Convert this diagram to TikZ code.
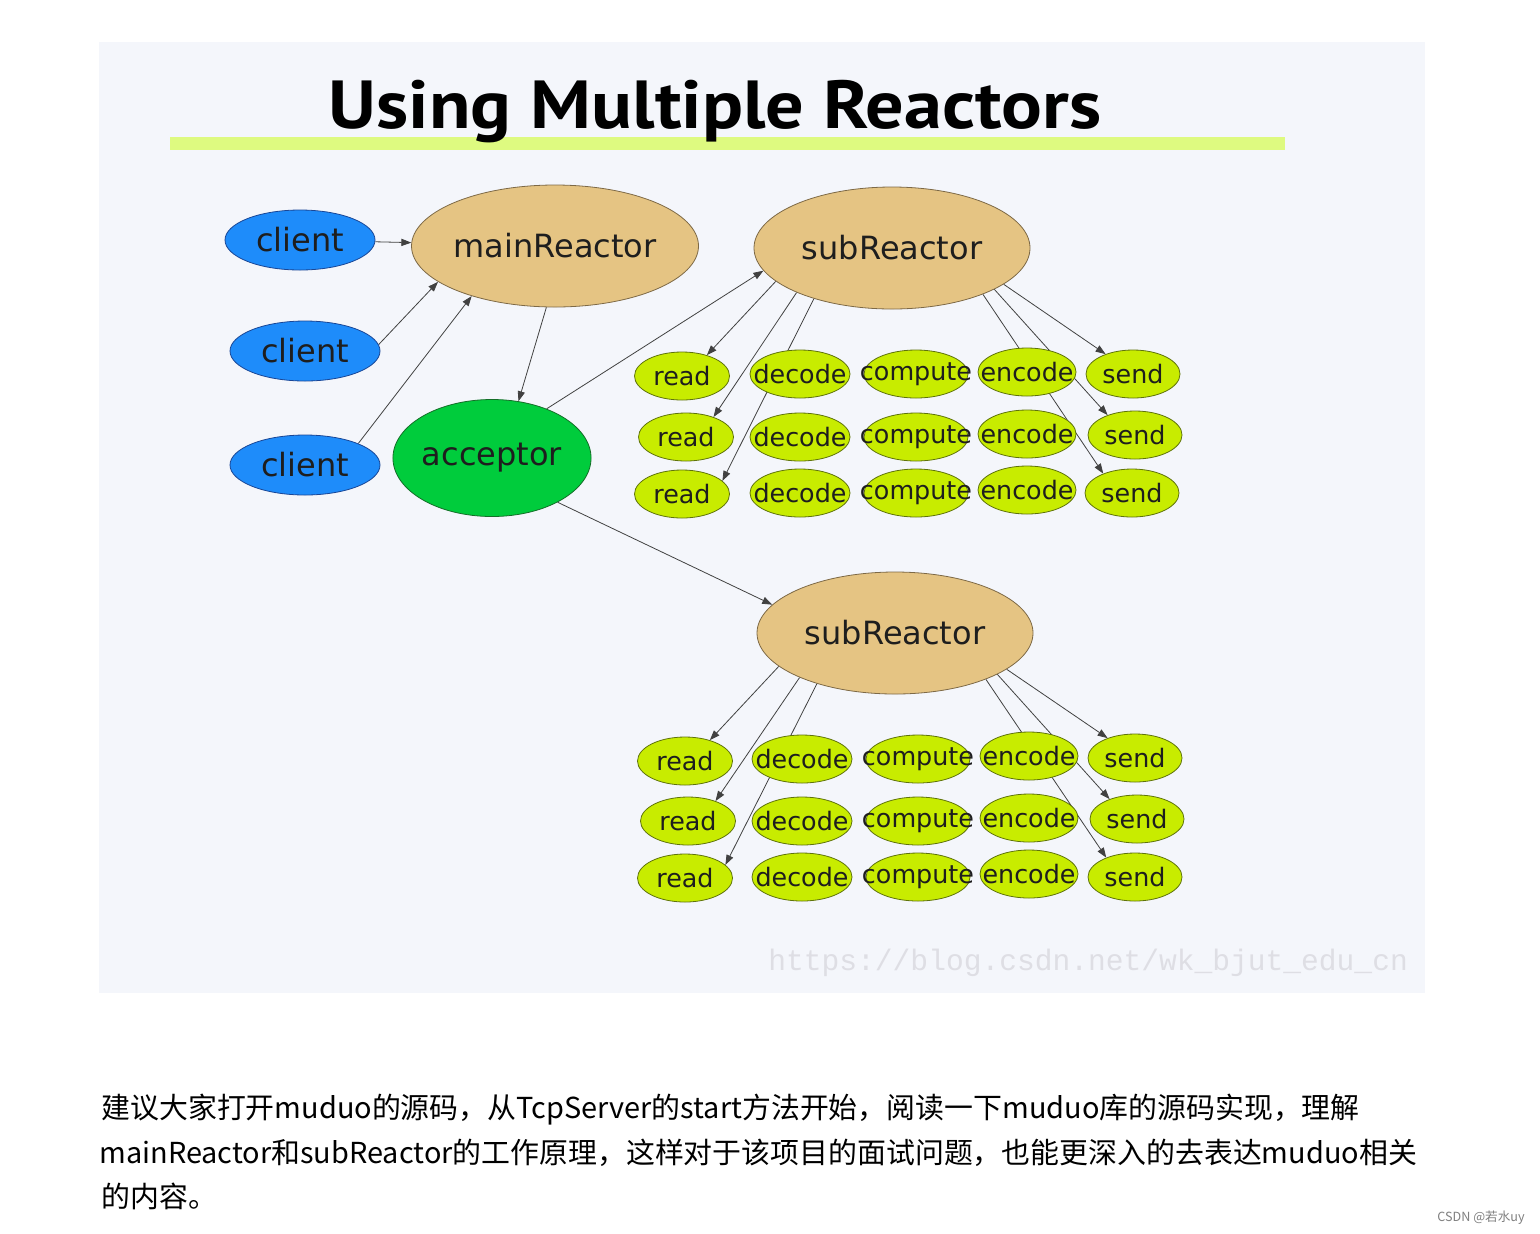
\documentclass[tikz,border=0pt]{standalone}
\usepackage{fontspec}
\setmainfont{DejaVu Sans}
\newfontfamily\titlefont{PT Sans}[FakeStretch=1.12]
\newfontfamily\cjkfont{Noto Sans CJK SC}
\newfontfamily\urlfont{Liberation Mono}
\usetikzlibrary{arrows.meta,shapes.geometric}

\definecolor{panelbg}{RGB}{244,246,251}
\definecolor{titlebar}{RGB}{222,250,128}
\definecolor{clientfill}{RGB}{30,140,250}
\definecolor{clientline}{RGB}{25,70,150}
\definecolor{reactorfill}{RGB}{229,196,131}
\definecolor{reactorline}{RGB}{125,105,70}
\definecolor{acceptorfill}{RGB}{0,204,60}
\definecolor{acceptorline}{RGB}{20,110,40}
\definecolor{taskfill}{RGB}{200,236,0}
\definecolor{taskline}{RGB}{95,115,10}
\definecolor{edgegray}{RGB}{65,65,65}
\definecolor{nodetext}{RGB}{30,30,30}
\definecolor{urlgray}{RGB}{222,222,228}

\pgfdeclarelayer{panel}
\pgfdeclarelayer{edges}
\pgfsetlayers{panel,edges,main}

% labels of the small ellipses may run over their border
\newcommand{\tasklabel}[1]{\makebox[0pt]{#1}}

\begin{document}
\begin{tikzpicture}[->,>={Triangle[length=5pt,width=3.6pt]},x=0.5pt,y=-0.5pt,
    line width=0.7pt,
    client node/.style={ellipse,draw=clientline,fill=clientfill,text=nodetext,
      minimum width=75pt,minimum height=30pt,inner sep=0pt,
      font=\fontsize{16}{18}\selectfont},
    reactor node/.style={ellipse,draw=reactorline,fill=reactorfill,text=nodetext,
      minimum width=138pt,minimum height=61pt,inner sep=0pt,
      font=\fontsize{16}{18}\selectfont},
    acceptor node/.style={ellipse,draw=acceptorline,fill=acceptorfill,text=nodetext,
      minimum width=96.5pt,minimum height=58.5pt,inner sep=0pt,
      font=\fontsize{16}{18}\selectfont},
    task node/.style={ellipse,draw=taskline,fill=taskfill,text=nodetext,
      minimum width=#1,minimum height=24pt,inner sep=0pt,
      font=\fontsize{12.7}{14}\selectfont},
    task node/.default=48pt]

    \useasboundingbox (0,0) rectangle (1540,1233);
    \begin{pgfonlayer}{panel}
    \fill[white] (0,0) rectangle (1540,1233);
    \fill[panelbg] (99,42) rectangle (1425,993);
    \fill[titlebar] (170,137) rectangle (1285,150);
    \end{pgfonlayer}

    \node[anchor=base,inner sep=0pt,font=\titlefont\bfseries\fontsize{34}{36}\selectfont]
      (title) at (715,128) {Using Multiple Reactors};

    \node[client node] (client1) at (300,240) {client};
    \node[client node] (client2) at (305,351) {client};
    \node[client node] (client3) at (305,465) {client};
    \node[reactor node] (mainR) at (555,246) {mainReactor};
    \node[acceptor node] (acc) at (492,458) {acceptor};
    \node[reactor node] (sub1) at (892,248) {subReactor};
    \node[reactor node] (sub2) at (895,633) {subReactor};

    % first subReactor
    \node[task node=47.5pt] (read11) at (682,376) {\tasklabel{read}};
    \node[task node=50pt] (decode11) at (800,374) {\tasklabel{decode}};
    \node[task node=52pt] (compute11) at (916,374) {\tasklabel{compute}};
    \node[task node=49pt] (encode11) at (1027,372) {\tasklabel{encode}};
    \node[task node=47pt] (send11) at (1133,374) {\tasklabel{send}};
    \node[task node=47.5pt] (read12) at (686,437) {\tasklabel{read}};
    \node[task node=50pt] (decode12) at (800,437) {\tasklabel{decode}};
    \node[task node=52pt] (compute12) at (916,437) {\tasklabel{compute}};
    \node[task node=49pt] (encode12) at (1027,434) {\tasklabel{encode}};
    \node[task node=47pt] (send12) at (1135,435) {\tasklabel{send}};
    \node[task node=47.5pt] (read13) at (682,494) {\tasklabel{read}};
    \node[task node=50pt] (decode13) at (800,493) {\tasklabel{decode}};
    \node[task node=52pt] (compute13) at (916,493) {\tasklabel{compute}};
    \node[task node=49pt] (encode13) at (1027,490) {\tasklabel{encode}};
    \node[task node=47pt] (send13) at (1132,493) {\tasklabel{send}};

    % second subReactor
    \node[task node=47.5pt] (read21) at (685,761) {\tasklabel{read}};
    \node[task node=50pt] (decode21) at (802,759) {\tasklabel{decode}};
    \node[task node=52pt] (compute21) at (918,759) {\tasklabel{compute}};
    \node[task node=49pt] (encode21) at (1029,756) {\tasklabel{encode}};
    \node[task node=47pt] (send21) at (1135,758) {\tasklabel{send}};
    \node[task node=47.5pt] (read22) at (688,821) {\tasklabel{read}};
    \node[task node=50pt] (decode22) at (802,821) {\tasklabel{decode}};
    \node[task node=52pt] (compute22) at (918,821) {\tasklabel{compute}};
    \node[task node=49pt] (encode22) at (1029,818) {\tasklabel{encode}};
    \node[task node=47pt] (send22) at (1137,819) {\tasklabel{send}};
    \node[task node=47.5pt] (read23) at (685,878) {\tasklabel{read}};
    \node[task node=50pt] (decode23) at (802,877) {\tasklabel{decode}};
    \node[task node=52pt] (compute23) at (918,877) {\tasklabel{compute}};
    \node[task node=49pt] (encode23) at (1029,874) {\tasklabel{encode}};
    \node[task node=47pt] (send23) at (1135,877) {\tasklabel{send}};

    \begin{pgfonlayer}{edges}
    \path[every edge/.append style={draw=edgegray}]
    (client1) edge (mainR)
    (client2.5) edge (mainR.197)
    (client3.22) edge (mainR.211)
    (mainR.262) edge (acc.65)
    (acc.42) edge (sub1.190)
    (acc.326) edge (sub2.167)
    (sub1.196) edge (read11.40)
    (sub1.205) edge (read12.36)
    (sub1.213) edge (read13.18)
    (sub1.342) edge (send11.144)
    (sub1.338) edge (send12.144)
    (sub1.333) edge (send13.146)
    (sub2.196) edge (read21.40)
    (sub2.205) edge (read22.36)
    (sub2.213) edge (read23.18)
    (sub2.342) edge (send21.144)
    (sub2.338) edge (send22.144)
    (sub2.333) edge (send23.146);
    \end{pgfonlayer}

    \node[anchor=base west,inner sep=0pt,text=urlgray,font=\urlfont\fontsize{14.8}{16}\selectfont]
      (url) at (768,970) {https://blog.csdn.net/wk\_bjut\_edu\_cn};

    \node[anchor=base west,inner sep=0pt,font=\cjkfont\fontsize{14.45}{16}\selectfont]
      (line1) at (101,1118) {建议大家打开muduo的源码，从TcpServer的start方法开始，阅读一下muduo库的源码实现，理解};
    \node[anchor=base west,inner sep=0pt,font=\cjkfont\fontsize{14.45}{16}\selectfont]
      (line2) at (99,1163) {mainReactor和subReactor的工作原理，这样对于该项目的面试问题，也能更深入的去表达muduo相关};
    \node[anchor=base west,inner sep=0pt,font=\cjkfont\fontsize{14.45}{16}\selectfont]
      (line3) at (101,1207) {的内容。};
    \node[anchor=base east,inner sep=0pt,text=gray,font=\cjkfont\fontsize{6.3}{7}\selectfont]
      (mark) at (1525,1221) {CSDN @若水uy};
\end{tikzpicture}
\end{document}
